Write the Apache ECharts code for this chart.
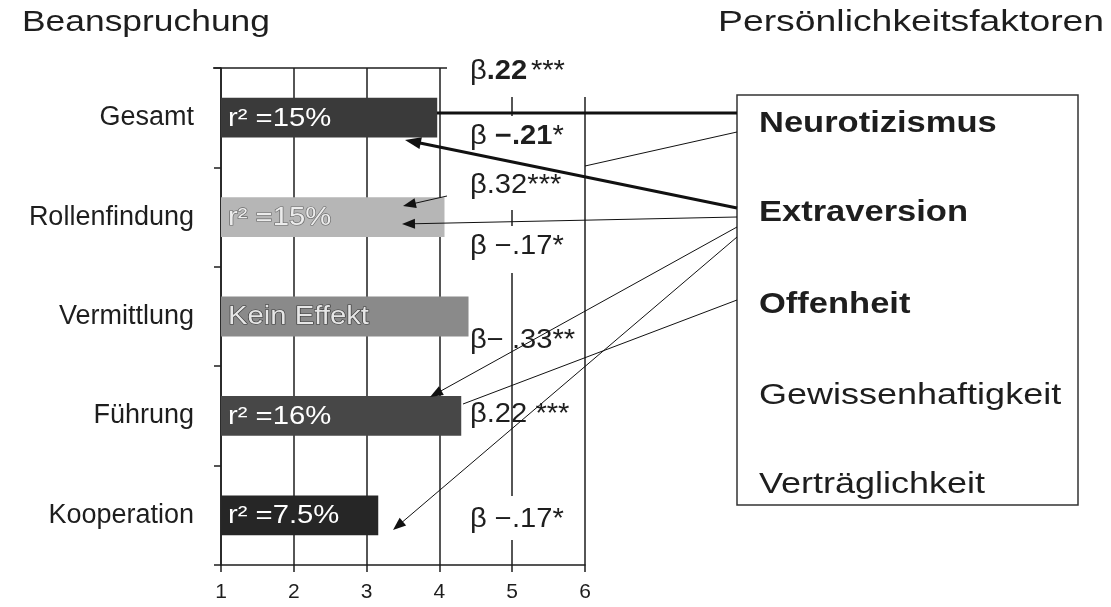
<!DOCTYPE html>
<html><head><meta charset="utf-8">
<script src="https://cdn.jsdelivr.net/npm/echarts@6/dist/echarts.min.js"></script>
<style>html,body{margin:0;padding:0;background:#fff}#c{width:1111px;height:607px}</style>
</head><body><div id="c"></div>
<script>
// ---- data ----
var categories = ['Gesamt', 'Rollenfindung', 'Vermittlung', 'Führung', 'Kooperation'];
var meanValues = [3.97, 4.07, 4.40, 4.30, 3.16];
var barLabels = ['r² =15%', 'r² =15%', 'Kein Effekt', 'r² =16%', 'r² =7.5%'];
var xTickLabels = ['1', '2', '3', '4', '5', '6'];
var factors = ['Neurotizismus', 'Extraversion', 'Offenheit', 'Gewissenhaftigkeit', 'Verträglichkeit'];
var factorBold = [true, true, true, false, false];
var betaLabels = [
  '{n|β}{b|.22} {n|***}',
  '{n|β }{b|−.21}{n|*}',
  '{n|β.32***}',
  '{n|β −.17*}',
  '{n|β− .33**}',
  '{n|β.22 ***}',
  '{n|β −.17*}'
];

// ---- styles / layout ----
var FF = 'Liberation Sans, Arial, sans-serif';
var INK = '#1e1e1e';
var barColors = ['#3a3a3a', '#b6b6b6', '#8a8a8a', '#474747', '#262626'];
var barTextFill = ['#ffffff', '#ececec', '#e6e6e6', '#ffffff', '#ffffff'];
var barTextStroke = [null, '#6a6a6a', '#3a3a3a', null, null];
var betaY = [72, 137, 186, 247, 341, 415, 520];
var factorY = [124, 213, 305, 396, 485];
var xMin = 1, xMax = 6;

function renderBar(params, api) {
  var i = params.dataIndex;
  var v = api.value(0);
  var base = api.coord([xMin, i]);
  var end = api.coord([v, i]);
  var h = api.size([0, 1])[1] * 0.4;
  var txtStyle = {
    text: barLabels[i], fill: barTextFill[i], fontSize: 25, fontFamily: FF,
    align: 'left', verticalAlign: 'middle'
  };
  if (barTextStroke[i]) { txtStyle.stroke = barTextStroke[i]; txtStyle.lineWidth = 1.2; }
  return {
    type: 'group',
    children: [
      { type: 'rect', shape: { x: base[0], y: base[1] - h / 2, width: end[0] - base[0], height: h },
        style: { fill: barColors[i] } },
      { type: 'text', x: base[0] + 7, y: base[1] + 1, scaleX: 1.17, style: txtStyle }
    ]
  };
}

function arrowHead(x1, y1, x2, y2, L, W) {
  var dx = x2 - x1, dy = y2 - y1, len = Math.sqrt(dx * dx + dy * dy);
  var ux = dx / len, uy = dy / len;
  var bx = x2 - ux * L, by = y2 - uy * L;
  return [[x2, y2], [bx - uy * W, by + ux * W], [bx + uy * W, by - ux * W]];
}

var links = [
  { from: [437, 113], to: [737, 113], w: 3, arrow: false },
  { from: [737, 132], to: [585, 166], w: 1, arrow: false },
  { from: [737, 208], to: [405, 140], w: 3, arrow: true },
  { from: [737, 217], to: [402, 224], w: 1, arrow: true },
  { from: [447, 196], to: [403, 206], w: 1, arrow: true },
  { from: [737, 227], to: [430, 397], w: 1, arrow: true },
  { from: [737, 237], to: [393, 530], w: 1, arrow: true },
  { from: [737, 300], to: [463, 404], w: 1, arrow: false }
];

var graphics = [];
// titles
graphics.push({ type: 'text', x: 22, y: 23, scaleX: 1.18, z: 20,
  style: { text: 'Beanspruchung', fontSize: 30, fontFamily: FF, fill: INK, align: 'left', verticalAlign: 'middle' } });
graphics.push({ type: 'text', x: 718, y: 23, scaleX: 1.245, z: 20,
  style: { text: 'Persönlichkeitsfaktoren', fontSize: 30, fontFamily: FF, fill: INK, align: 'left', verticalAlign: 'middle' } });
// partial top border
graphics.push({ type: 'line', z: 3, shape: { x1: 213, y1: 68, x2: 447, y2: 68 }, style: { stroke: INK, lineWidth: 1.5 } });
// white text backgrounds covering grid lines
[[455, 56, 140, 41], [460, 116, 118, 94], [460, 226, 118, 47], [460, 496, 118, 44]].forEach(function (r) {
  graphics.push({ type: 'rect', z: 5, shape: { x: r[0], y: r[1], width: r[2], height: r[3] }, style: { fill: '#ffffff' } });
});
// beta labels
betaLabels.forEach(function (t, i) {
  graphics.push({ type: 'text', x: 470, y: betaY[i], scaleX: 1.08, z: 6,
    style: { text: t, align: 'left', verticalAlign: 'middle',
      rich: {
        n: { fontSize: 27, fontFamily: FF, fill: INK },
        b: { fontSize: 27, fontFamily: FF, fill: INK, fontWeight: 'bold' }
      } } });
});
// factor box
graphics.push({ type: 'rect', z: 8, shape: { x: 737, y: 95, width: 341, height: 410 },
  style: { fill: 'none', stroke: '#333', lineWidth: 1.5 } });
factors.forEach(function (f, i) {
  graphics.push({ type: 'text', x: 759, y: factorY[i], scaleX: factorBold[i] ? 1.15 : 1.2, z: 9,
    style: { text: f, fontSize: 30, fontFamily: FF, fontWeight: factorBold[i] ? 'bold' : 'normal',
      fill: INK, align: 'left', verticalAlign: 'middle' } });
});
// links
links.forEach(function (l) {
  var x2 = l.to[0], y2 = l.to[1];
  if (l.arrow) {
    var L = l.w > 2 ? 16 : 13, W = l.w > 2 ? 6 : 5;
    var pts = arrowHead(l.from[0], l.from[1], x2, y2, L, W);
    graphics.push({ type: 'polygon', z: 11, shape: { points: pts }, style: { fill: '#111' } });
    var dx = x2 - l.from[0], dy = y2 - l.from[1], len = Math.sqrt(dx * dx + dy * dy);
    x2 = x2 - dx / len * (L - 2); y2 = y2 - dy / len * (L - 2);
  }
  graphics.push({ type: 'line', z: 10, shape: { x1: l.from[0], y1: l.from[1], x2: x2, y2: y2 },
    style: { stroke: '#111', lineWidth: l.w } });
});

var chart = echarts.init(document.getElementById('c'), null, { renderer: 'canvas' });
chart.setOption({
  animation: false,
  backgroundColor: '#ffffff',
  grid: { left: 221, right: 526, top: 68, bottom: 42, containLabel: false },
  xAxis: {
    type: 'value', min: xMin, max: xMax, interval: 1,
    axisLine: { show: true, lineStyle: { color: INK, width: 1.5 } },
    axisTick: { show: true, length: 7, lineStyle: { color: INK, width: 1.5 } },
    axisLabel: { color: INK, fontSize: 21, fontFamily: FF, margin: 17,
      formatter: function (v) { return xTickLabels[Math.round(v) - xMin]; } },
    splitLine: { show: true, lineStyle: { color: INK, width: 1.5 } }
  },
  yAxis: {
    type: 'category', inverse: true, data: categories,
    axisLine: { show: true, lineStyle: { color: INK, width: 1.5 } },
    axisTick: { show: true, length: 7, lineStyle: { color: INK, width: 1.5 } },
    axisLabel: { color: INK, fontSize: 27, fontFamily: FF, margin: 27 },
    splitLine: { show: false }
  },
  series: [{
    type: 'custom', renderItem: renderBar, z: 2,
    encode: { x: 0, y: 1 },
    data: meanValues.map(function (v, i) { return [v, i]; })
  }],
  graphic: graphics
});
</script>
</body></html>
